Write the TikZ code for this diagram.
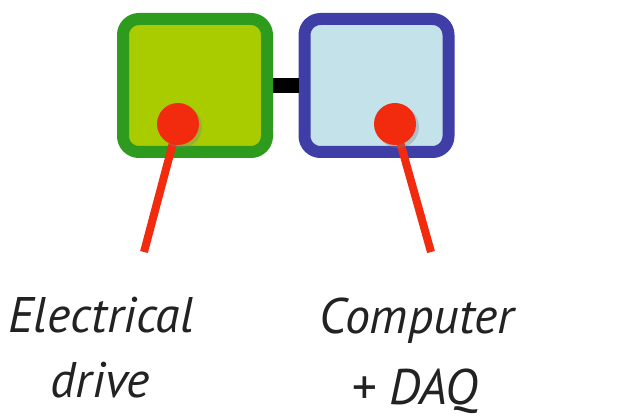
\documentclass[tikz,border=0pt]{standalone}
\usepackage{fontspec}
\setmainfont{PT Sans}
\usetikzlibrary{shadows}
\definecolor{drivefill}{HTML}{A8CC00}
\definecolor{driveedge}{HTML}{2E9A1E}
\definecolor{daqfill}{HTML}{C4E2EA}
\definecolor{daqedge}{HTML}{3E3EA6}
\definecolor{probe}{HTML}{F22A0E}
\definecolor{ink}{HTML}{222222}
\tikzset{
  unit/.style={draw, line width=12pt, rounded corners=16pt, minimum width=144pt, minimum height=133pt, inner sep=0pt},
  link/.style={line width=15pt, draw=black},
  tip/.style={circle, fill=probe, minimum size=42pt, inner sep=0pt, drop shadow={shadow xshift=3pt, shadow yshift=-3pt, opacity=0.35}},
  lead/.style={draw=probe, line width=8pt},
  caption/.style={font=\fontsize{50}{58}\selectfont\itshape, text=ink, anchor=base, inner sep=0pt}
}
\begin{document}
\begin{tikzpicture}[x=1pt, y=-1pt]
  \useasboundingbox (0,0) rectangle (639,419);
  % the two units and the link between them
  \node[unit, draw=driveedge, fill=drivefill] (drive) at (195,85.5) {};
  \node[unit, draw=daqedge, fill=daqfill] (daq) at (376.5,85.5) {};
  \draw[link] (drive.east) -- (daq.west);
  % probe leads
  \coordinate (driveend) at (144,252);
  \coordinate (daqend) at (431,252);
  \draw[lead] (178,124) -- (driveend);
  \draw[lead] (395,124) -- (daqend);
  \node[tip] (drivetip) at (178,124) {};
  \node[tip] (daqtip) at (395,124) {};
  % captions
  \node[caption] (l1) at (101,332) {Electrical};
  \node[caption] (l2) at (100,397) {drive};
  \node[caption] (r1) at (417,333) {Computer};
  \node[caption] (r2) at (415,404) {+ DAQ};
\end{tikzpicture}
\end{document}
